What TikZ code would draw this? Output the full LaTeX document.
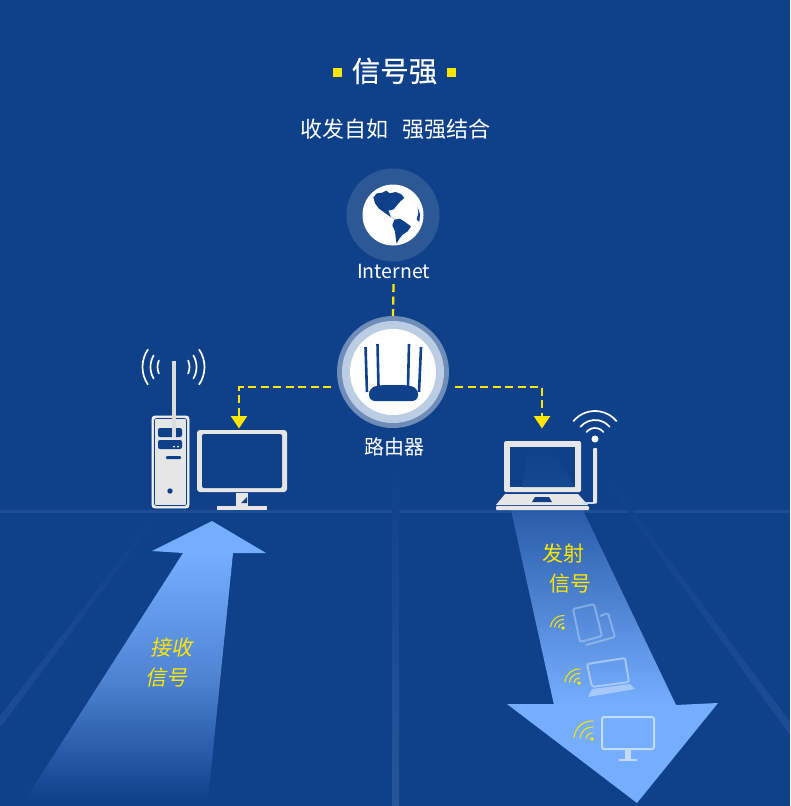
\documentclass[tikz,border=0pt]{standalone}
\usepackage{fontspec}
\setmainfont{Noto Sans CJK SC}
\newfontfamily\titlefont[FakeBold=0.6]{Noto Sans CJK SC}
\usetikzlibrary{arrows.meta,positioning,calc}
\definecolor{bgblue}{HTML}{0F418B}
\definecolor{faintblue}{HTML}{1D4E94}
\definecolor{halo}{HTML}{2C5896}
\definecolor{ringout}{HTML}{6F8DB8}
\definecolor{ringin}{HTML}{BBCDE3}
\definecolor{beam}{HTML}{76AEFF}
\definecolor{devgray}{HTML}{E6E6E6}
\definecolor{sigyellow}{HTML}{FFE600}
\definecolor{ghost}{HTML}{C4DCFA}
\tikzset{
  linkline/.style={draw=sigyellow,line width=2.3pt,dash pattern=on 8pt off 4.5pt},
  linkarrow/.style={linkline,-{Triangle[length=12.5pt,width=16pt]}},
  wave/.style={draw=white,line width=1.7pt,line cap=round},
  smallwave/.style={draw=sigyellow,line width=1pt,line cap=round},
  ghostline/.style={draw=ghost,line width=2pt,rounded corners=2pt,line join=round},
  label/.style={text=white,inner sep=0pt},
  siglabel/.style={text=sigyellow,inner sep=0pt,font=\fontsize{21}{21}\selectfont}
}
\begin{document}
\begin{tikzpicture}[x=1pt,y=-1pt]
\useasboundingbox (0,0) rectangle (790,806);
\fill[bgblue] (0,0) rectangle (790,806);
% floor lines
\fill[faintblue] (0,510) rectangle (790,513);
\shade[top color=bgblue,bottom color=faintblue!96!white] (392,465) rectangle (399,806);
\shade[top color=bgblue,bottom color=faintblue] (155,514)--(160,514)--(2,725)--(0,725)--(0,716)--cycle;
\shade[top color=bgblue,bottom color=faintblue] (596,468)--(601,468)--(790,722)--(790,735)--cycle;
% arrows
\shade[top color=beam,bottom color=bgblue,middle color=beam!62!bgblue] (233,553)--(208,800)--(25,800)--(183,553)--cycle;
\fill[beam] (212,521)--(266,553)--(233,553)--(183,553)--(152,551)--cycle;
\shade[top color=bgblue!75!beam,bottom color=beam] (511,510)--(583,510)--(676,705)--(554,705)--cycle;
\fill[beam] (507,704)--(554,704)--(676,705)--(718,703)--(637,803)--cycle;
% title
\node[label,font=\fontsize{28.5}{28.5}\titlefont] (title) at (394.5,71) {信号强};
\fill[sigyellow] (333,68) rectangle (342,77);
\fill[sigyellow] (447,68) rectangle (456,77);
\node[label,font=\fontsize{22}{22}\selectfont] (sub) at (395.5,129) {收发自如\hspace{14pt}强强结合};
% globe
\node[circle,fill=halo,minimum size=93pt,inner sep=0pt] (halo) at (393,215) {};
\node[circle,fill=white,minimum size=61pt,inner sep=0pt] (globe) at (393,215) {};
\begin{scope}[shift={(355,178)},scale=1/3]
\fill[bgblue] (55,58)--(66,46)--(82,44)--(94,38)--(104,46)--(122,42)--(138,48)--(148,60)--(136,70)--(124,84)--(116,94)--(108,96)--(100,98)--(108,116)--(120,124)--(100,112)--(86,102)--(72,92)--(60,76)--cycle;
\fill[bgblue] (118,125)--(135,122)--(150,132)--(168,145)--(158,160)--(143,170)--(133,182)--(125,197)--(122,178)--(120,160)--(112,142)--cycle;
\fill[bgblue] (188,88)--(195,108)--(193,132)--(185,125)--(190,105)--cycle;
\end{scope}
\node[label,minimum height=26pt,font=\fontsize{19.5}{19.5}\selectfont] (inet) at (393.5,271) {Internet};
% router
\node[circle,fill=ringout,minimum size=112pt,inner sep=0pt] (router) at (393,372) {};
\node[circle,fill=ringin,minimum size=102pt,inner sep=0pt] (ringb) at (393,372) {};
\node[circle,fill=white,minimum size=86pt,inner sep=0pt] (ringc) at (393,372) {};
\foreach \xa/\ya/\xb/\yb in {365.5/347/367/392,377.5/344/378.5/387,409/344/408/387,421/347/419/392}{\draw[bgblue,line width=2.6pt] (\xa,\ya)--(\xb,\yb);}
\fill[bgblue,rounded corners=6pt] (369,388)--(380,385)--(407,385)--(418,388)--(418,401)--(369,401)--cycle;
\node[label,font=\fontsize{20}{20}\selectfont] (rname) at (394,447) {路由器};
% server
\fill[devgray,draw=white,line width=0.8pt,rounded corners=3pt] (152,416) rectangle (189,508);
\draw[bgblue,line width=0.6pt,rounded corners=2pt] (154.5,418.5) rectangle (186.5,505.5);
\fill[devgray] (157,420) rectangle (184,503);
\fill[bgblue,rounded corners=2pt] (158,428) rectangle (182,437);
\fill[bgblue,rounded corners=2pt] (158,440) rectangle (182,449);
\foreach \xa in {174,178}{\fill[white] (\xa,446.5) circle (1pt);}
\fill[bgblue,rounded corners=1pt] (166,456) rectangle (181,459);
\fill[bgblue] (170,491) circle (2.7pt);
\fill[devgray!90!gray] (171.5,361) rectangle (175.5,438);
\foreach \r/\a in {16/24,23/30,31/34}{
  \draw[wave] (173.5,367)+(180-\a:\r) arc[start angle=180-\a,end angle=180+\a,radius=\r];
  \draw[wave] (173.5,367)+(-\a:\r) arc[start angle=-\a,end angle=\a,radius=\r];
}
% pc
\node[fill=devgray,rounded corners=3pt,minimum width=90pt,minimum height=62pt,inner sep=0pt] (pc) at (242,461) {};
\fill[bgblue,rounded corners=2pt] (202,434) rectangle (282,488);
\fill[devgray] (236,493) rectangle (248,506);
\fill[bgblue] (241,503)--(247,497)--(247,503)--cycle;
\fill[devgray] (217,506) rectangle (267,510);
% laptop
\node[fill=devgray,rounded corners=1.5pt,minimum width=77pt,minimum height=51pt,inner sep=0pt] (lid) at (542.5,466.5) {};
\fill[bgblue] (510,447) rectangle (575,487);
\shade[top color=bgblue,bottom color=bgblue!93!beam] (528,450)--(552,450)--(575,487)--(522,487)--cycle;
\fill[devgray] (505,494)--(578,494)--(588,505)--(496,505)--cycle;
\fill[bgblue] (535,497)--(549,497)--(552,502)--(532,502)--cycle;
\fill[devgray,rounded corners=1pt] (496,506) rectangle (589,510);
\fill[ghost] (583,501.5) rectangle (594,503.5);
\fill[devgray,rounded corners=1pt] (593,448) rectangle (597,503.5);
\fill[white] (595,439) circle (3.5pt);
\foreach \r in {11,19,28}{\draw[wave] (595,439)+(-140:\r) arc[start angle=-140,end angle=-40,radius=\r];}
% links
\coordinate (inl) at (331,387);
\coordinate (inr) at (455,387);
\coordinate (pcin) at (239,428.5);
\coordinate (lapin) at (542,428.5);
\draw[linkline] (inet.south)--(router.north);
\draw[linkarrow] (inl)-|(pcin);
\draw[linkarrow] (inr)-|(lapin);
% signal labels
\node[siglabel] (tx) at (563,554) {发射};
\node[siglabel] (txb) at (570,584) {信号};
\node[siglabel,xslant=0.2] (rx) at (173,648) {接收};
\node[siglabel,xslant=0.2] (rxb) at (168,678) {信号};
% devices in the beam
\draw[ghostline,draw opacity=0.45] (573,609)--(594,604)--(602,636)--(580,642)--cycle;
\draw[ghostline,draw opacity=0.45] (600,616)--(608,613)--(615,637)--(586,645);
\draw[ghostline,draw opacity=0.65] (587,664)--(625,658)--(629,682)--(592,687)--cycle;
\fill[ghost,opacity=0.65] (592,689)--(630,684)--(635,689)--(588,697)--cycle;
\draw[ghostline] (602,717) rectangle (654,749);
\fill[ghost] (625,749) rectangle (631,759);
\fill[ghost] (619,759) rectangle (637,761);
\foreach \xa/\ya/\ra/\rb/\rc in {563/628/4.5/8.5/12.5,579/683/5/9.5/14,592/739/6/12/18}{
  \fill[sigyellow] (\xa,\ya) circle (1.8pt);
  \foreach \r in {\ra,\rb,\rc}{\draw[smallwave] (\xa,\ya)+(-175:\r) arc[start angle=-175,end angle=-85,radius=\r];}
}
\end{tikzpicture}
\end{document}
